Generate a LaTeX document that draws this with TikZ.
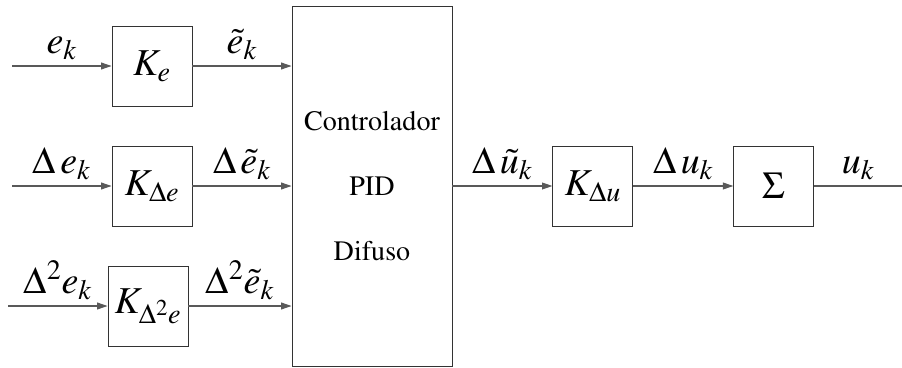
\documentclass[tikz,border=0pt]{standalone}
\usepackage[T1]{fontenc}
\usepackage{mathptmx}
\usetikzlibrary{arrows.meta, positioning}

\begin{document}
\begin{tikzpicture}[
    x=0.025cm, y=-0.025cm,
    font=\fontsize{27}{32}\selectfont,
    block/.style={
      draw=black!80,
      line width=0.6pt,
      minimum width=2cm,
      minimum height=2cm,
      inner sep=0pt
    },
    sig/.style={draw=black!65, line width=0.8pt, -{Triangle[length=0.26cm, width=0.17cm]}},
    wire/.style={draw=black!65, line width=0.8pt},
    lbl/.style={above, inner sep=4pt}
  ]
    \useasboundingbox (0,0) rectangle (902,368);

    % gains at the inputs
    \node[block] (Ke) at (152,66) {$K_{e}$};
    \node[block] (Kde) at (152,186) {$K_{\Delta e}$};
    \node[block] (Kd2e) at (148,306) {$K_{\Delta^{2} e}$};

    \node[block, minimum width=4cm, minimum height=9cm, align=center,
      font=\fontsize{20}{46}\selectfont] (ctrl) at (372,186)
      {Controlador\\PID\\Difuso};

    \node[block] (Kdu) [right=2.5cm of ctrl] {$K_{\Delta u}$};
    \node[block] (sum) [right=2.5cm of Kdu] {$\Sigma$};

    \coordinate (in1) at (12,66);
    \coordinate (in2) at (12,186);
    \coordinate (in3) at (8,306);
    \coordinate (out) at (902,186);

    \draw[sig] (in1) -- node[lbl] (lek) {$e_{k}$} (Ke);
    \draw[sig] (in2) -- node[lbl] (ldek) {$\Delta\,e_{k}$} (Kde);
    \draw[sig] (in3) -- node[lbl] (ld2ek) {$\Delta^{2} e_{k}$} (Kd2e);

    \draw[sig] (Ke) -- node[lbl] (ltek) {$\tilde{e}_{k}$} (Ke -| ctrl.west);
    \draw[sig] (Kde) -- node[lbl] (ldtek) {$\Delta\,\tilde{e}_{k}$} (Kde -| ctrl.west);
    \draw[sig] (Kd2e) -- node[lbl] (ld2tek) {$\Delta^{2} \tilde{e}_{k}$} (Kd2e -| ctrl.west);

    \draw[sig] (ctrl) -- node[lbl] (ldtuk) {$\Delta\,\tilde{u}_{k}$} (Kdu);
    \draw[sig] (Kdu) -- node[lbl] (lduk) {$\Delta\,u_{k}$} (sum);
    \draw[wire] (sum) -- node[lbl] (luk) {$u_{k}$} (out);
  \end{tikzpicture}
\end{document}
